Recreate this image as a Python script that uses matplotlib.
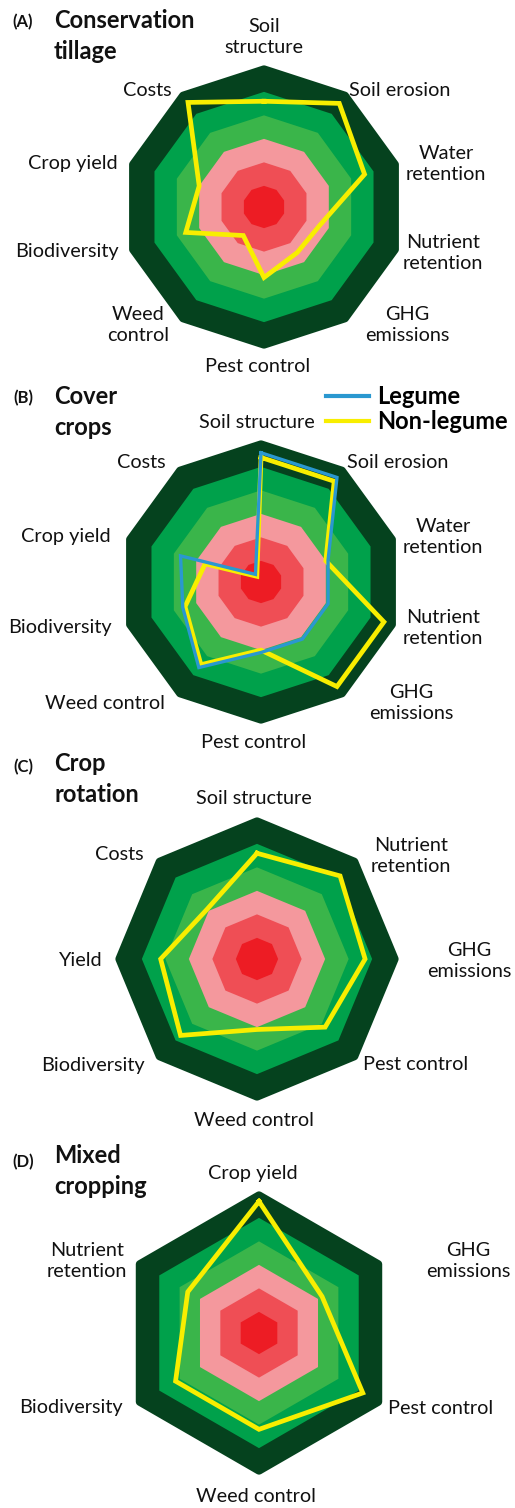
import numpy as np
import matplotlib.pyplot as plt
from matplotlib.lines import Line2D

plt.rcParams['font.family'] = ['Lato', 'DejaVu Sans']

FIG_W, FIG_H = 515, 1508
PX_PER_UNIT = 23.5   # pixels per score unit
RMAX = 6.3

# background scale bands (score level, colour), outermost first
ring_levels = [5.85, 4.9, 3.9, 2.9, 1.9, 0.9]
ring_colors = ['#05421E', '#00A14B', '#3AB54A', '#F4989D', '#EF4E55', '#ED1C24']

YELLOW = '#F8EE00'
BLUE = '#2A98D0'

# (A) conservation tillage
a_labels = ['Soil\nstructure', 'Soil erosion', 'Water\nretention', 'Nutrient\nretention',
            'GHG\nemissions', 'Pest control', 'Weed\ncontrol', 'Biodiversity',
            'Crop yield', 'Costs']
a_scores = [4.5, 5.45, 4.5, 2.5, 2.4, 3.0, 1.5, 3.5, 2.9, 5.5]

# (B) cover crops
b_labels = ['Soil structure', 'Soil erosion', 'Water\nretention', 'Nutrient\nretention',
            'GHG\nemissions', 'Pest control', 'Weed control', 'Biodiversity',
            'Crop yield', 'Costs']
b_legume = [5.5, 5.5, 3.0, 3.0, 3.0, 3.0, 4.5, 3.5, 3.6, 0.4]
b_nonlegume = [5.3, 5.3, 2.9, 5.5, 5.5, 2.9, 4.35, 3.4, 2.5, 0.3]

# (C) crop rotation
c_labels = ['Soil structure', 'Nutrient\nretention', 'GHG\nemissions', 'Pest control',
            'Weed control', 'Biodiversity', 'Yield', 'Costs']
c_scores = [4.5, 5.0, 4.6, 4.1, 3.0, 4.6, 4.1, 3.0]

# (D) mixed cropping
d_labels = ['Crop yield', 'GHG\nemissions', 'Pest control', 'Weed control',
            'Biodiversity', 'Nutrient\nretention']
d_scores = [5.6, 3.1, 5.1, 4.1, 4.1, 3.5]

fig = plt.figure(figsize=(FIG_W / 100, FIG_H / 100), dpi=100)


def fig_xy(x, y):
    return x / FIG_W, 1 - y / FIG_H


def radar(center, labels, series, offsets):
    cx, cy = center
    half = RMAX * PX_PER_UNIT
    ax = fig.add_axes([(cx - half) / FIG_W, 1 - (cy + half) / FIG_H,
                       2 * half / FIG_W, 2 * half / FIG_H], projection='polar')
    ax.set_theta_zero_location('N')
    ax.set_theta_direction(-1)
    ax.set_ylim(0, RMAX)
    ax.axis('off')

    n = len(labels)
    theta = np.linspace(0, 2 * np.pi, n, endpoint=False)
    closed = np.append(theta, theta[0])
    for i, (lvl, col) in enumerate(zip(ring_levels, ring_colors)):
        r = np.full(n + 1, lvl)
        if i == 0:
            ax.fill(closed, r, facecolor=col, edgecolor=col, lw=6, joinstyle='round')
        else:
            ax.fill(closed, r, color=col, lw=0)

    for vals, col, lw in series:
        ax.plot(closed, np.append(vals, vals[0]), color=col, lw=lw,
                solid_joinstyle='miter')

    for lab, (dx, dy) in zip(labels, offsets):
        fig.text(*fig_xy(cx + dx, cy + dy), lab, ha='center', va='center',
                 ma='center', fontsize=14.3, linespacing=1.3, color='#111111')
    return ax


def title(tag, name, y_tag, y_name):
    fig.text(*fig_xy(23, y_tag), tag, ha='center', va='center',
             fontsize=12, fontweight='bold', color='#111111')
    fig.text(*fig_xy(54, y_name), name, ha='left', va='center',
             fontsize=17, fontweight='bold', linespacing=1.45, color='#111111')


radar((264, 207), a_labels, [(a_scores, YELLOW, 3.4)],
      [(0, -170), (136, -116), (182, -43), (179, 46), (143, 118),
       (-6, 159), (-126, 118), (-197, 45), (-191, -44), (-117, -116)])
title('(A)', 'Conservation\ntillage', 22, 36)

ax_b = radar((261, 582), b_labels, [(b_nonlegume, YELLOW, 3.4), (b_legume, BLUE, 2.4)],
             [(-4, -160), (137, -119), (182, -45), (182, 46), (150, 121),
              (-7, 161), (-156, 121), (-201, 46), (-195, -45), (-120, -119)])
title('(B)', 'Cover\ncrops', 398, 412)
handles = [Line2D([], [], color=BLUE, lw=3), Line2D([], [], color=YELLOW, lw=3)]
fig.legend(handles, ['Legume', 'Non-legume'], loc='upper left',
           bbox_to_anchor=fig_xy(326, 385), frameon=False, borderpad=0,
           borderaxespad=0, handlelength=1.8, handletextpad=0.35,
           labelspacing=0.1, prop={'size': 17, 'weight': 'bold'})

radar((257, 959), c_labels, [(c_scores, YELLOW, 3.4)],
      [(-3, -161), (154, -103), (212, 2), (159, 106), (-3, 161),
       (-164, 106), (-176, 1), (-138, -105)])
title('(C)', 'Crop\nrotation', 767, 779)

radar((259, 1333), d_labels, [(d_scores, YELLOW, 3.4)],
      [(-6, -160), (209, -72), (182, 75), (-3, 163), (-188, 75), (-172, -72)])
title('(D)', 'Mixed\ncropping', 1162, 1171)

fig.savefig('out.png', dpi=100)
